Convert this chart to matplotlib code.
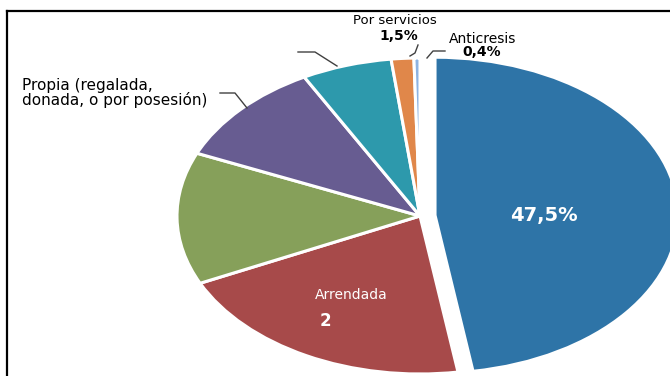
import matplotlib.pyplot as plt

# Tenencia de la vivienda
categorias = ['Propia', 'Arrendada', 'Otra', 'Propia (regalada,\ndonada, o por posesión)',
              'Otra forma', 'Por servicios', 'Anticresis']
valores = [47.5, 20.5, 13.5, 10.6, 6.0, 1.5, 0.4]
colores = ['#2E74A7', '#A74A4A', '#86A05A', '#675C91', '#2D99AC', '#E0874A', '#8DB3E2']
explode = [0.062, 0, 0, 0, 0, 0, 0]

W, H = 670, 376
fig = plt.figure(figsize=(W / 100, H / 100), dpi=100)

# pie axes stretched to an ellipse (center 420,216 ; rx 243, ry 158 px)
cx, cy, rx, ry = 420, 216, 243, 158
axp = fig.add_axes([(cx - rx) / W, (H - cy - ry) / H, 2 * rx / W, 2 * ry / H])
wedges, _ = axp.pie(valores, colors=colores, startangle=90, counterclock=False,
                    explode=explode, radius=1,
                    wedgeprops=dict(edgecolor='white', linewidth=2.2))
for w in wedges:
    w.set_clip_on(False)
axp.set_aspect('auto')
axp.set_xlim(-1, 1)
axp.set_ylim(-1, 1)
axp.axis('off')

# overlay in pixel coordinates for frame, labels and leader lines
ax = fig.add_axes([0, 0, 1, 1])
ax.set_xlim(0, W)
ax.set_ylim(H, 0)
ax.axis('off')
ax.patch.set_alpha(0)

ax.plot([7, W], [11, 11], color='black', lw=1.6)
ax.plot([7, 7], [11, H], color='black', lw=1.6)

lc = '#404040'
ax.plot([298, 315, 337], [52, 52, 66], color=lc, lw=1.0)
ax.plot([418, 415, 410], [45, 53, 56], color=lc, lw=1.0)
ax.plot([445, 433, 427], [51, 51, 58], color=lc, lw=1.0)
ax.plot([220, 235, 247], [93, 93, 108], color=lc, lw=1.0)

fam = 'DejaVu Sans'
pct = lambda v: '{:.1f}%'.format(v).replace('.', ',')
ax.text(544, 215, pct(valores[0]), color='white',
        fontsize=14, fontweight='bold', ha='center', va='center', family=fam)
ax.text(351, 295, categorias[1], color='white', fontsize=10, ha='center', va='center',
        family=fam)
ax.text(325, 321, '2', color='white', fontsize=12, fontweight='bold', ha='center',
        va='center', family=fam)
ax.text(395, 21, categorias[5], color='black', fontsize=9.5, ha='center', va='center',
        family=fam)
ax.text(399, 36, pct(valores[5]), color='black',
        fontsize=10, fontweight='bold', ha='center', va='center', family=fam)
ax.text(483, 39, categorias[6], color='black', fontsize=10, ha='center', va='center',
        family=fam)
ax.text(482, 52, pct(valores[6]), color='black',
        fontsize=10, fontweight='bold', ha='center', va='center', family=fam)
ax.text(22, 93, categorias[3], color='black', fontsize=11, ha='left', va='center',
        family=fam, linespacing=0.85)

fig.savefig('out.png', dpi=100)
